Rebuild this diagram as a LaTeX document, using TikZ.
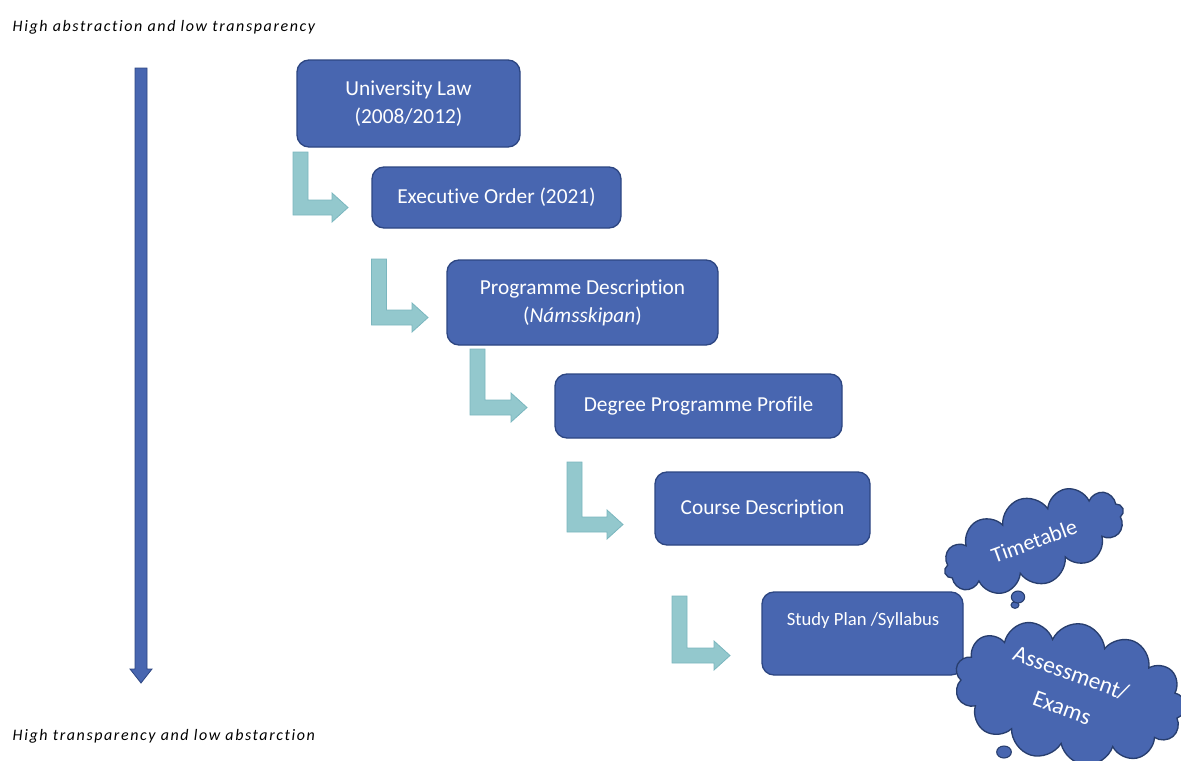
\documentclass[tikz,border=0pt]{standalone}
\usepackage{fontspec}
\setmainfont{Carlito}[Ligatures=CommonOff]
\usetikzlibrary{shapes.symbols,shapes.geometric}
\definecolor{boxblue}{RGB}{72,102,176}
\definecolor{boxedge}{RGB}{45,70,130}
\definecolor{tealfill}{RGB}{147,200,205}
\definecolor{tealedge}{RGB}{122,182,190}
\definecolor{cloudedge}{RGB}{40,62,110}
\newcommand{\bentarrow}[4]{% left x, top y, center y, tip x
  \fill[tealfill,draw=tealedge,line width=0.6pt]
    (#1,#2) -- (#1+15,#2) -- (#1+15,#3-7.5) -- (#4-16,#3-7.5) -- (#4-16,#3-14.5)
    -- (#4,#3) -- (#4-16,#3+14.5) -- (#4-16,#3+7.5) -- (#1,#3+7.5) -- cycle;}
\begin{document}
\begin{tikzpicture}[x=0.75pt,y=-0.75pt,
  box/.style={draw=boxedge,fill=boxblue,line width=1pt,rounded corners=9pt,
    text=white,align=center,font=\fontsize{16}{21}\selectfont,inner sep=0pt},
  cloudnode/.style={cloud,cloud puffs=13,cloud ignores aspect,draw=cloudedge,fill=boxblue,line width=1pt,
    text=white,align=center},
  bubble/.style={ellipse,draw=cloudedge,fill=boxblue,line width=0.8pt,inner sep=0pt},
  side/.style={font=\fontsize{12}{14}\selectfont\itshape\addfontfeatures{LetterSpace=10},anchor=west}]
\useasboundingbox (0,0) rectangle (1181,760);
\clip (0,0) rectangle (1181,760);
% left text
\node[side] (top) at (8,27) {High abstraction and low transparency};
\node[side] (bot) at (8,736) {High transparency and low abstarction};
% vertical arrow
\fill[boxblue,draw=boxedge,line width=0.6pt]
  (135,68) -- (147,68) -- (147,669) -- (152,669) -- (141,683) -- (130,669) -- (135,669) -- cycle;
% boxes
\node[box,minimum width=167.25pt,minimum height=65.25pt] (b1) at (408.5,103.5) {University Law\\(2008/2012)};
\node[box,minimum width=186.75pt,minimum height=45.75pt] (b2) at (496.5,197.5) {Executive Order (2021)};
\node[box,minimum width=203.25pt,minimum height=63.75pt] (b3) at (582.5,302.5) {Programme Description\\(\textit{Námsskipan})};
\node[box,minimum width=215.25pt,minimum height=48pt] (b4) at (698.5,406) {Degree Programme Profile};
\node[box,minimum width=161.25pt,minimum height=54.75pt] (b5) at (762.5,508.5) {Course Description};
\node[box,minimum width=150.75pt,minimum height=62.25pt] (b6) at (862.5,633.5) {};
\node[text=white,font=\fontsize{14}{17}\selectfont] (b6t) at (863,621) {Study Plan /Syllabus};
% bent arrows
\bentarrow{293}{152}{207.5}{348}
\bentarrow{371.5}{259}{317.5}{428}
\bentarrow{470}{349}{407.5}{527}
\bentarrow{567}{462}{524.5}{623}
\bentarrow{672}{596}{655.5}{730}
% clouds
\node[bubble,minimum width=6pt,minimum height=5pt] (tb2) at (1015,605) {};
\node[bubble,minimum width=10pt,minimum height=9pt] (tb1) at (1018,597) {};
\node[cloudnode,cloud puffs=12,rotate=20,minimum width=142pt,minimum height=66pt,
  font=\fontsize{16.5}{20}\selectfont] (tt) at (1034,541) {Timetable};
\node[bubble,minimum width=11pt,minimum height=9pt] (ab1) at (1004,752) {};
\node[cloudnode,rotate=-10,minimum width=175pt,minimum height=105pt] (as) at (1070,693) {};
\node[text=white,rotate=-20,font=\fontsize{17.5}{21}\selectfont] (ast1) at (1071,673) {Assessment/};
\node[text=white,rotate=-20,font=\fontsize{17.5}{21}\selectfont] (ast2) at (1062,708) {Exams};
\end{tikzpicture}
\end{document}
